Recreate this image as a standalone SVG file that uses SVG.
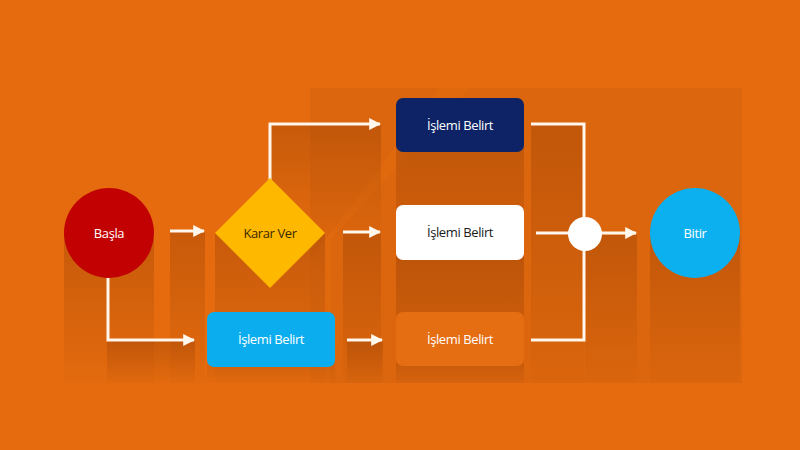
<svg xmlns="http://www.w3.org/2000/svg" width="800" height="450" viewBox="0 0 800 450">
<defs>
<linearGradient id="sh" x1="0" y1="0" x2="0" y2="1">
<stop offset="0" stop-color="#9E4306" stop-opacity="0.42"/>
<stop offset="1" stop-color="#9E4306" stop-opacity="0.03"/>
</linearGradient>
<marker id="ah" viewBox="0 0 10 10" refX="9" refY="5" markerWidth="4" markerHeight="4" orient="auto" markerUnits="strokeWidth">
<path d="M0,0 L10,5 L0,10 z" fill="#FFF6EC"/>
</marker>
<style>
.lbl{font-family:"Open Sans","Noto Sans",sans-serif;font-size:13px;text-anchor:middle;dominant-baseline:central;letter-spacing:-0.4px}
.con{fill:none;stroke:#FFF6EC;stroke-width:3}
.sh{fill:url(#sh)}
</style>
</defs>
<rect x="0" y="0" width="800" height="450" fill="#E56B0E"/>
<rect x="310" y="88" width="432" height="295" fill="#DC660D"/>
<polygon points="310,260 310,383 330,383 330,240 470,88 440,88" fill="#E26A0F" opacity="0.6"/>
<g id="shadows">
<rect class="sh" x="64" y="233" width="90" height="150"/>
<rect class="sh" x="170" y="232" width="35" height="151"/>
<rect class="sh" x="215" y="233" width="110" height="150"/>
<rect class="sh" x="270" y="125" width="111" height="108"/>
<rect class="sh" x="343" y="233" width="38" height="150"/>
<rect class="sh" x="396" y="125" width="128" height="258"/>
<rect class="sh" x="396" y="233" width="128" height="150"/>
<rect class="sh" x="396" y="340" width="128" height="43"/>
<rect class="sh" x="107" y="341" width="88" height="42"/>
<rect class="sh" x="207" y="340" width="128" height="43"/>
<rect class="sh" x="347" y="341" width="36" height="42"/>
<rect class="sh" x="531" y="125" width="53" height="258"/>
<rect class="sh" x="585" y="235" width="52" height="148"/>
<rect class="sh" x="650" y="233" width="90" height="150"/>
</g>
<g id="connectors">
<line class="con" x1="170" y1="231" x2="204" y2="231" marker-end="url(#ah)"/>
<polyline class="con" points="270,180 270,124 380,124" marker-end="url(#ah)"/>
<line class="con" x1="343" y1="232" x2="380" y2="232" marker-end="url(#ah)"/>
<polyline class="con" points="108,278 108,340 194,340" marker-end="url(#ah)"/>
<line class="con" x1="347" y1="340" x2="382" y2="340" marker-end="url(#ah)"/>
<polyline class="con" points="531,124 584,124 584,340 531,340"/>
<line class="con" x1="536" y1="233" x2="570" y2="233"/>
<line class="con" x1="600" y1="233" x2="636" y2="233" marker-end="url(#ah)"/>
</g>
<g id="start">
<circle cx="109" cy="233" r="45" fill="#C20202"/>
<text class="lbl" x="109" y="233" fill="#FFFFFF">Başla</text>
</g>
<g id="decision">
<polygon points="270,178 325,233 270,288 215,233" fill="#FFB800"/>
<text class="lbl" x="270" y="233" fill="#3A2A00">Karar Ver</text>
</g>
<g id="process1">
<rect x="396" y="98" width="128" height="54" rx="7" fill="#0D2366"/>
<text class="lbl" x="460" y="125" fill="#FFFFFF">İşlemi Belirt</text>
</g>
<g id="process2">
<rect x="396" y="205" width="128" height="55" rx="7" fill="#FFFFFF"/>
<text class="lbl" x="460" y="232" fill="#1A1A1A">İşlemi Belirt</text>
</g>
<g id="process3">
<rect x="396" y="312" width="128" height="54" rx="7" fill="#E56D12"/>
<text class="lbl" x="460" y="339" fill="#FFFFFF">İşlemi Belirt</text>
</g>
<g id="process4">
<rect x="207" y="312" width="128" height="55" rx="7" fill="#0BADEF"/>
<text class="lbl" x="271" y="339" fill="#FFFFFF">İşlemi Belirt</text>
</g>
<g id="junction">
<circle cx="585" cy="234" r="17" fill="#FFFFFF"/>
</g>
<g id="end">
<circle cx="695" cy="233" r="45" fill="#0CB0EE"/>
<text class="lbl" x="695" y="233" fill="#FFFFFF">Bitir</text>
</g>
</svg>
